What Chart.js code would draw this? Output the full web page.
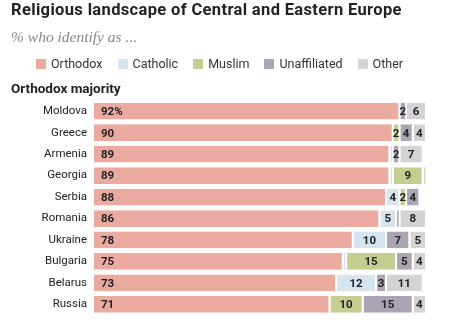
<!DOCTYPE html>
<html>
<head>
<meta charset="utf-8">
<script src="https://cdn.jsdelivr.net/npm/chart.js@4.4.1/dist/chart.umd.min.js"></script>
<style>
  html, body { margin: 0; padding: 0; background: #fff; }
  #wrap { position: relative; width: 455px; height: 329px; overflow: hidden; }
  #chart-religion { position: absolute; left: 0; top: 0; }
  .title { position: absolute; left: 11px; top: 0px; font: bold 16.5px Roboto, sans-serif; letter-spacing: 0.35px; color: #222; white-space: nowrap; }
  .subtitle { position: absolute; left: 11px; top: 28px; font: italic 15.5px "Liberation Serif", serif; color: #888; white-space: nowrap; }
  .legend { position: absolute; left: 36px; top: 56px; display: flex; gap: 15px; font: 12.5px Roboto, sans-serif; color: #333; }
  .legend span { display: flex; align-items: center; white-space: nowrap; }
  .legend i { display: inline-block; width: 10px; height: 10px; margin-right: 5px; }
  .group { position: absolute; left: 11px; top: 80px; font: bold 13.5px Roboto, sans-serif; color: #222; white-space: nowrap; }
</style>
</head>
<body>
<div id="wrap">
  <canvas id="chart-religion" width="455" height="329"></canvas>
  <div class="title">Religious landscape of Central and Eastern Europe</div>
  <div class="subtitle">% who identify as ...</div>
  <div class="legend" id="legend"></div>
  <div class="group">Orthodox majority</div>
</div>
<script>
  var countries = ["Moldova", "Greece", "Armenia", "Georgia", "Serbia", "Romania", "Ukraine", "Bulgaria", "Belarus", "Russia"];

  var orthodox     = [92, 90, 89, 89, 88, 86, 78, 75, 73, 71];
  var catholic     = [0, 0, 1, 1, 4, 5, 10, 1, 12, 0];
  var muslim       = [0, 2, 0, 9, 2, 0, 0, 15, 0, 10];
  var unaffiliated = [2, 4, 2, 0, 4, 1, 7, 5, 3, 15];
  var other        = [6, 4, 7, 1, 0, 8, 5, 4, 11, 4];

  var seriesNames  = ["Orthodox", "Catholic", "Muslim", "Unaffiliated", "Other"];
  var seriesColors = ["#ebaaa0", "#d5e4ed", "#c5ce90", "#aca4b2", "#d3d3d5"];
  var seriesData   = [orthodox, catholic, muslim, unaffiliated, other];

  // legend row
  var legendEl = document.getElementById("legend");
  seriesNames.forEach(function (name, i) {
    var item = document.createElement("span");
    item.innerHTML = '<i style="background:' + seriesColors[i] + '"></i>' + name;
    legendEl.appendChild(item);
  });

  // numbers written on the segments
  var segmentLabels = {
    id: "segmentLabels",
    afterDatasetsDraw: function (chart) {
      var ctx = chart.ctx;
      ctx.save();
      ctx.font = "bold 11.5px Roboto, sans-serif";
      ctx.fillStyle = "#222";
      ctx.textBaseline = "middle";
      chart.data.datasets.forEach(function (ds, i) {
        var meta = chart.getDatasetMeta(i);
        meta.data.forEach(function (bar, j) {
          var v = ds.data[j];
          if (v < 2) return;
          if (i === 0) {
            ctx.textAlign = "left";
            ctx.fillText(j === 0 ? v + "%" : String(v), bar.base + 7, bar.y + 1);
          } else {
            ctx.textAlign = "center";
            ctx.fillText(String(v), (bar.x + bar.base) / 2 - 1, bar.y + 1);
          }
        });
      });
      ctx.restore();
    }
  };

  var ctx = document.getElementById("chart-religion").getContext("2d");

  new Chart(ctx, {
    type: "bar",
    data: {
      labels: countries,
      datasets: seriesNames.map(function (name, i) {
        return {
          label: name,
          data: seriesData[i],
          backgroundColor: seriesColors[i],
          borderColor: "#ffffff",
          borderWidth: { top: 0, bottom: 0, left: 0, right: 2 },
          borderSkipped: false,
          barPercentage: 1,
          categoryPercentage: 0.78
        };
      })
    },
    options: {
      indexAxis: "y",
      responsive: false,
      animation: false,
      layout: {
        padding: { top: 100.5, bottom: 5, left: 0, right: 28 }
      },
      plugins: {
        legend: { display: false },
        tooltip: { enabled: false }
      },
      scales: {
        x: {
          stacked: true,
          min: 0,
          max: 100,
          display: false
        },
        y: {
          stacked: true,
          grid: { display: false, drawTicks: false },
          border: { display: false },
          ticks: {
            padding: 7,
            color: "#222",
            font: { size: 11.5, family: "Roboto, sans-serif" }
          },
          afterFit: function (scale) {
            scale.width = 94;
          }
        }
      }
    },
    plugins: [segmentLabels]
  });
</script>
</body>
</html>
